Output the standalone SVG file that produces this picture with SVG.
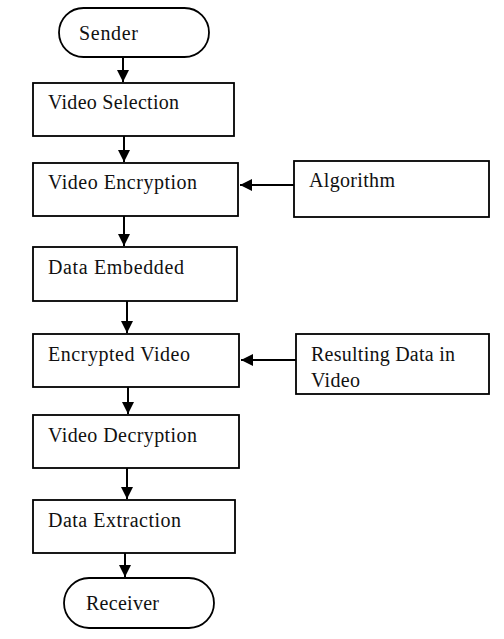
<svg xmlns="http://www.w3.org/2000/svg" width="504" height="639" viewBox="0 0 504 639">
<style>
.box{fill:#fff;stroke:#000;stroke-width:1.8}
.t{font-family:"Liberation Serif","Times New Roman",serif;font-size:20px;fill:#111}
.c{stroke:#000;stroke-width:2;fill:none}
</style>
<defs>
<marker id="ah" markerUnits="userSpaceOnUse" markerWidth="12" markerHeight="12" refX="10" refY="5" orient="auto" viewBox="0 0 10 10">
<path d="M0,0 L10,5 L0,10 z" fill="#000"/>
</marker>
</defs>
<rect width="504" height="639" fill="#fff"/>
<g id="sender"><rect class="box" x="59" y="8" width="150" height="49" rx="24.5"/><text class="t" x="79" y="40" textLength="59" lengthAdjust="spacing">Sender</text></g>
<g id="video-selection"><rect class="box" x="33" y="83" width="201" height="53"/><text class="t" x="48" y="109" textLength="131" lengthAdjust="spacing">Video Selection</text></g>
<g id="video-encryption"><rect class="box" x="33" y="163" width="205" height="53"/><text class="t" x="48" y="189" textLength="149" lengthAdjust="spacing">Video Encryption</text></g>
<g id="algorithm"><rect class="box" x="294" y="161" width="195" height="56"/><text class="t" x="309" y="187" textLength="86" lengthAdjust="spacing">Algorithm</text></g>
<g id="data-embedded"><rect class="box" x="33" y="247" width="204" height="54"/><text class="t" x="48" y="274" textLength="136" lengthAdjust="spacing">Data Embedded</text></g>
<g id="encrypted-video"><rect class="box" x="33" y="334" width="206" height="53"/><text class="t" x="48" y="361" textLength="142" lengthAdjust="spacing">Encrypted Video</text></g>
<g id="resulting-data"><rect class="box" x="296" y="334" width="193" height="60"/><text class="t" x="311" y="361" textLength="144" lengthAdjust="spacing">Resulting Data in</text><text class="t" x="311" y="387" textLength="49" lengthAdjust="spacing">Video</text></g>
<g id="video-decryption"><rect class="box" x="33" y="415" width="206" height="53"/><text class="t" x="48" y="442" textLength="149" lengthAdjust="spacing">Video Decryption</text></g>
<g id="data-extraction"><rect class="box" x="33" y="500" width="202" height="53"/><text class="t" x="48" y="527" textLength="133" lengthAdjust="spacing">Data Extraction</text></g>
<g id="receiver"><rect class="box" x="64" y="578" width="150" height="50" rx="25"/><text class="t" x="86" y="610" textLength="73" lengthAdjust="spacing">Receiver</text></g>
<g id="connectors">
<path class="c" d="M123,57 V82" marker-end="url(#ah)"/>
<path class="c" d="M124,136 V162" marker-end="url(#ah)"/>
<path class="c" d="M124,216 V246" marker-end="url(#ah)"/>
<path class="c" d="M127,301 V333" marker-end="url(#ah)"/>
<path class="c" d="M128,387 V414" marker-end="url(#ah)"/>
<path class="c" d="M127,468 V499" marker-end="url(#ah)"/>
<path class="c" d="M125,553 V577" marker-end="url(#ah)"/>
<path class="c" d="M294,185 H240" marker-end="url(#ah)"/>
<path class="c" d="M296,360 H241" marker-end="url(#ah)"/>
</g>
</svg>
